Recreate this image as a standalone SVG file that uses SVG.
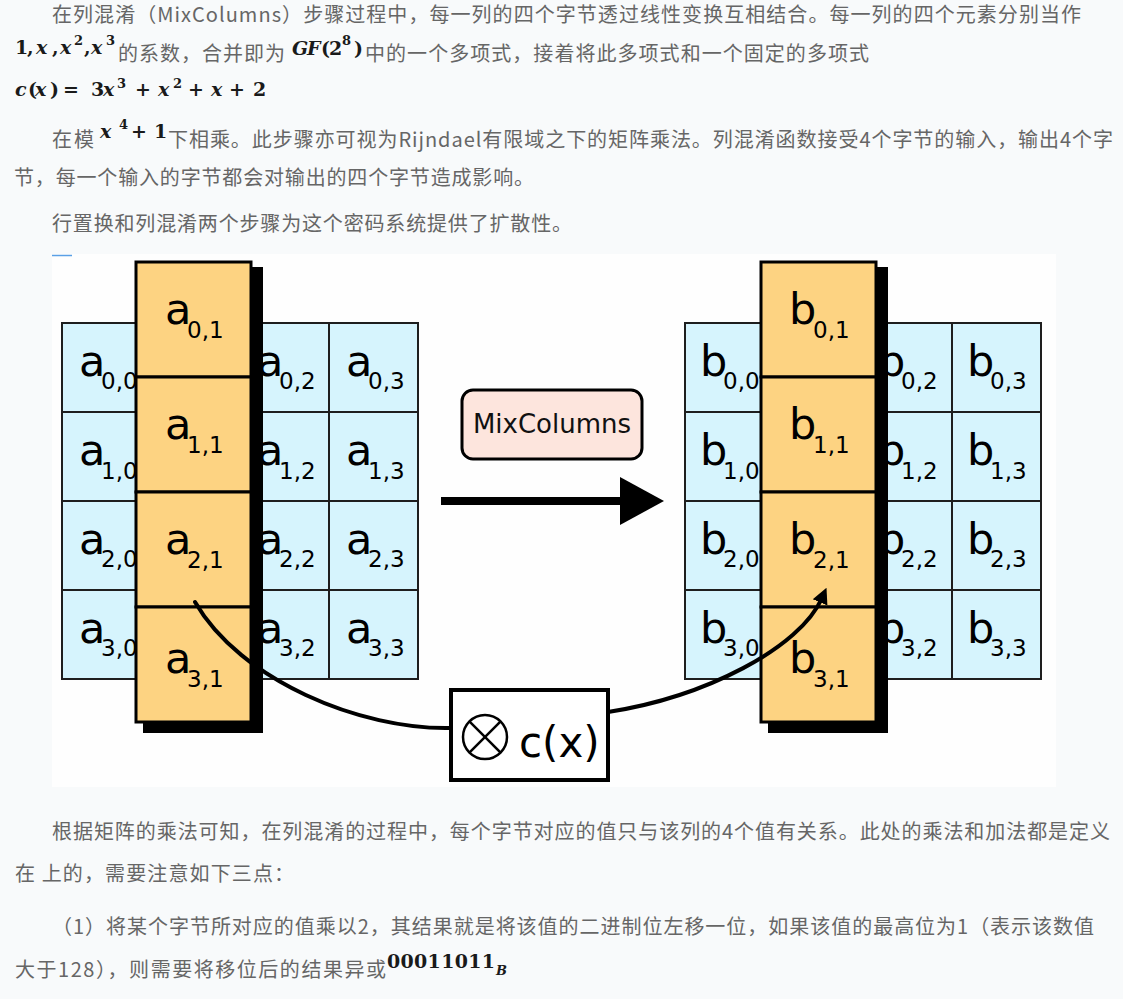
<svg xmlns="http://www.w3.org/2000/svg" width="1123" height="999" viewBox="0 0 1123 999">
<style>
.t{font-family:"Noto Sans CJK SC","Noto Sans",sans-serif;font-size:20px;fill:#666}
.m{font-family:"DejaVu Serif",serif;font-size:19px;font-weight:bold;fill:#1a1a1a}
.i{font-style:italic}
.sp{font-size:13px}
.blue{fill:#d6f4fd;stroke:#1e1e1e;stroke-width:2}
.or{fill:#fdd382;stroke:#000;stroke-width:3}
.sh{fill:#000}
.L{font-family:"DejaVu Sans",sans-serif;font-size:43px;fill:#000}
.S{font-size:23px}
.con{fill:none;stroke:#000;stroke-width:4}
</style>
<defs>
<marker id="ah" viewBox="0 0 10 10" refX="3" refY="5" markerWidth="16" markerHeight="17" markerUnits="userSpaceOnUse" orient="auto">
<path d="M0,0 L10,5 L0,10 z" fill="#000"/>
</marker>
</defs>
<rect x="0" y="0" width="1123" height="999" fill="#f8fafb"/>

<g id="text-body">
<text class="t" x="52" y="22" textLength="1029" lengthAdjust="spacing">在列混淆（MixColumns）步骤过程中，每一列的四个字节透过线性变换互相结合。每一列的四个元素分别当作</text>
<text class="m" y="54"><tspan x="15">1</tspan><tspan x="27">,</tspan><tspan x="36" class="i">x</tspan><tspan x="52">,</tspan><tspan x="60" class="i">x</tspan><tspan x="74" y="45" class="sp">2</tspan><tspan x="84" y="54">,</tspan><tspan x="91" class="i">x</tspan><tspan x="106" y="45" class="sp">3</tspan></text>
<text class="t" x="118" y="61" textLength="167" lengthAdjust="spacing">的系数，合并即为</text>
<text class="m" y="55"><tspan x="292" class="i">G</tspan><tspan x="307" class="i">F</tspan><tspan x="321">(</tspan><tspan x="329">2</tspan><tspan x="342" y="45" class="sp">8</tspan><tspan x="354" y="55">)</tspan></text>
<text class="t" x="365" y="61" textLength="504" lengthAdjust="spacing">中的一个多项式，接着将此多项式和一个固定的多项式</text>
<text class="m" y="96"><tspan x="15" class="i">c</tspan><tspan x="28">(</tspan><tspan x="35" class="i">x</tspan><tspan x="50">)</tspan><tspan x="63">=</tspan><tspan x="91">3</tspan><tspan x="103" class="i">x</tspan><tspan x="117" y="88" class="sp">3</tspan><tspan x="135" y="96">+</tspan><tspan x="158" class="i">x</tspan><tspan x="173" y="88" class="sp">2</tspan><tspan x="188" y="96">+</tspan><tspan x="211" class="i">x</tspan><tspan x="229">+</tspan><tspan x="253">2</tspan></text>
<text class="t" x="52" y="147" textLength="42" lengthAdjust="spacing">在模</text>
<text class="m" y="138"><tspan x="100" class="i">x</tspan><tspan x="119" y="129" class="sp">4</tspan><tspan x="131" y="138">+</tspan><tspan x="154">1</tspan></text>
<text class="t" x="168" y="147" textLength="945" lengthAdjust="spacing">下相乘。此步骤亦可视为Rijndael有限域之下的矩阵乘法。列混淆函数接受4个字节的输入，输出4个字</text>
<text class="t" x="14" y="185" textLength="520" lengthAdjust="spacing">节，每一个输入的字节都会对输出的四个字节造成影响。</text>
<text class="t" x="52" y="231" textLength="520" lengthAdjust="spacing">行置换和列混淆两个步骤为这个密码系统提供了扩散性。</text>
<text class="t" x="52" y="839" textLength="1058" lengthAdjust="spacing">根据矩阵的乘法可知，在列混淆的过程中，每个字节对应的值只与该列的4个值有关系。此处的乘法和加法都是定义</text>
<text class="t" x="15" y="881" textLength="279" lengthAdjust="spacing">在 上的，需要注意如下三点：</text>
<text class="t" x="52" y="934" textLength="1042" lengthAdjust="spacing">（1）将某个字节所对应的值乘以2，其结果就是将该值的二进制位左移一位，如果该值的最高位为1（表示该数值</text>
<text class="t" x="15" y="977" textLength="371" lengthAdjust="spacing">大于128），则需要将移位后的结果异或</text>
<text class="m" y="968"><tspan x="387" textLength="108" lengthAdjust="spacing">00011011</tspan><tspan x="496" y="975" class="i sp">B</tspan></text>
</g>

<rect x="52" y="254" width="1004" height="533" fill="#fefefe"/>
<line x1="52" y1="255.5" x2="72" y2="255.5" stroke="#5aa0e6" stroke-width="1.5"/>

<g id="grid-a">
<rect class="blue" x="62" y="323" width="89" height="89"/><rect class="blue" x="151" y="323" width="89" height="89"/><rect class="blue" x="240" y="323" width="89" height="89"/><rect class="blue" x="329" y="323" width="89" height="89"/>
<rect class="blue" x="62" y="412" width="89" height="89"/><rect class="blue" x="151" y="412" width="89" height="89"/><rect class="blue" x="240" y="412" width="89" height="89"/><rect class="blue" x="329" y="412" width="89" height="89"/>
<rect class="blue" x="62" y="501" width="89" height="89"/><rect class="blue" x="151" y="501" width="89" height="89"/><rect class="blue" x="240" y="501" width="89" height="89"/><rect class="blue" x="329" y="501" width="89" height="89"/>
<rect class="blue" x="62" y="590" width="89" height="89"/><rect class="blue" x="151" y="590" width="89" height="89"/><rect class="blue" x="240" y="590" width="89" height="89"/><rect class="blue" x="329" y="590" width="89" height="89"/>
<text class="L" y="376"><tspan x="79">a</tspan><tspan x="101" y="389" class="S">0,0</tspan></text>
<text class="L" y="376"><tspan x="257">a</tspan><tspan x="279" y="389" class="S">0,2</tspan></text>
<text class="L" y="376"><tspan x="346">a</tspan><tspan x="368" y="389" class="S">0,3</tspan></text>
<text class="L" y="465"><tspan x="79">a</tspan><tspan x="101" y="479" class="S">1,0</tspan></text>
<text class="L" y="465"><tspan x="257">a</tspan><tspan x="279" y="479" class="S">1,2</tspan></text>
<text class="L" y="465"><tspan x="346">a</tspan><tspan x="368" y="479" class="S">1,3</tspan></text>
<text class="L" y="554"><tspan x="79">a</tspan><tspan x="101" y="567" class="S">2,0</tspan></text>
<text class="L" y="554"><tspan x="257">a</tspan><tspan x="279" y="567" class="S">2,2</tspan></text>
<text class="L" y="554"><tspan x="346">a</tspan><tspan x="368" y="567" class="S">2,3</tspan></text>
<text class="L" y="643"><tspan x="79">a</tspan><tspan x="101" y="656" class="S">3,0</tspan></text>
<text class="L" y="643"><tspan x="257">a</tspan><tspan x="279" y="656" class="S">3,2</tspan></text>
<text class="L" y="643"><tspan x="346">a</tspan><tspan x="368" y="656" class="S">3,3</tspan></text>
</g>

<g id="col-a">
<rect class="sh" x="143" y="267" width="120" height="466"/>
<rect class="or" x="136" y="262" width="115" height="115"/>
<rect class="or" x="136" y="377" width="115" height="115"/>
<rect class="or" x="136" y="492" width="115" height="115"/>
<rect class="or" x="136" y="607" width="115" height="115"/>
<text class="L" y="324"><tspan x="165">a</tspan><tspan x="187" y="338" class="S">0,1</tspan></text>
<text class="L" y="439"><tspan x="165">a</tspan><tspan x="187" y="453" class="S">1,1</tspan></text>
<text class="L" y="554"><tspan x="165">a</tspan><tspan x="187" y="568" class="S">2,1</tspan></text>
<text class="L" y="673"><tspan x="165">a</tspan><tspan x="187" y="687" class="S">3,1</tspan></text>
</g>

<g id="grid-b">
<rect class="blue" x="685" y="323" width="89" height="89"/><rect class="blue" x="774" y="323" width="89" height="89"/><rect class="blue" x="863" y="323" width="89" height="89"/><rect class="blue" x="952" y="323" width="89" height="89"/>
<rect class="blue" x="685" y="412" width="89" height="89"/><rect class="blue" x="774" y="412" width="89" height="89"/><rect class="blue" x="863" y="412" width="89" height="89"/><rect class="blue" x="952" y="412" width="89" height="89"/>
<rect class="blue" x="685" y="501" width="89" height="89"/><rect class="blue" x="774" y="501" width="89" height="89"/><rect class="blue" x="863" y="501" width="89" height="89"/><rect class="blue" x="952" y="501" width="89" height="89"/>
<rect class="blue" x="685" y="590" width="89" height="89"/><rect class="blue" x="774" y="590" width="89" height="89"/><rect class="blue" x="863" y="590" width="89" height="89"/><rect class="blue" x="952" y="590" width="89" height="89"/>
<text class="L" y="376"><tspan x="700">b</tspan><tspan x="723" y="389" class="S">0,0</tspan></text>
<text class="L" y="376"><tspan x="878">b</tspan><tspan x="901" y="389" class="S">0,2</tspan></text>
<text class="L" y="376"><tspan x="967">b</tspan><tspan x="990" y="389" class="S">0,3</tspan></text>
<text class="L" y="465"><tspan x="700">b</tspan><tspan x="723" y="479" class="S">1,0</tspan></text>
<text class="L" y="465"><tspan x="878">b</tspan><tspan x="901" y="479" class="S">1,2</tspan></text>
<text class="L" y="465"><tspan x="967">b</tspan><tspan x="990" y="479" class="S">1,3</tspan></text>
<text class="L" y="554"><tspan x="700">b</tspan><tspan x="723" y="567" class="S">2,0</tspan></text>
<text class="L" y="554"><tspan x="878">b</tspan><tspan x="901" y="567" class="S">2,2</tspan></text>
<text class="L" y="554"><tspan x="967">b</tspan><tspan x="990" y="567" class="S">2,3</tspan></text>
<text class="L" y="643"><tspan x="700">b</tspan><tspan x="723" y="656" class="S">3,0</tspan></text>
<text class="L" y="643"><tspan x="878">b</tspan><tspan x="901" y="656" class="S">3,2</tspan></text>
<text class="L" y="643"><tspan x="967">b</tspan><tspan x="990" y="656" class="S">3,3</tspan></text>
</g>

<g id="col-b">
<rect class="sh" x="768" y="267" width="120" height="466"/>
<rect class="or" x="761" y="262" width="115" height="115"/>
<rect class="or" x="761" y="377" width="115" height="115"/>
<rect class="or" x="761" y="492" width="115" height="115"/>
<rect class="or" x="761" y="607" width="115" height="115"/>
<text class="L" y="324"><tspan x="789">b</tspan><tspan x="813" y="338" class="S">0,1</tspan></text>
<text class="L" y="439"><tspan x="789">b</tspan><tspan x="813" y="453" class="S">1,1</tspan></text>
<text class="L" y="554"><tspan x="789">b</tspan><tspan x="813" y="568" class="S">2,1</tspan></text>
<text class="L" y="673"><tspan x="789">b</tspan><tspan x="813" y="687" class="S">3,1</tspan></text>
</g>

<g id="mixcolumns">
<rect x="462" y="390" width="180" height="69" rx="11" fill="#fde5dd" stroke="#000" stroke-width="3"/>
<text x="552" y="433" text-anchor="middle" font-family="DejaVu Sans, sans-serif" font-size="26" fill="#111">MixColumns</text>
</g>

<g id="connectors">
<line x1="441" y1="501" x2="622" y2="501" stroke="#000" stroke-width="8"/>
<polygon points="620,477 664,501 620,525" fill="#000"/>
<path class="con" d="M195,602 C240,680 360,730 451,728" stroke-linecap="round"/>
<path class="con" d="M608,712 C705,697 800,648 822,598" marker-end="url(#ah)"/>
</g>

<g id="cx-box">
<rect x="451" y="690" width="157" height="90" fill="#fff" stroke="#000" stroke-width="4"/>
<circle cx="485" cy="737" r="22" fill="none" stroke="#000" stroke-width="2.5"/>
<line x1="469.4" y1="721.4" x2="500.6" y2="752.6" stroke="#000" stroke-width="2.5"/>
<line x1="500.6" y1="721.4" x2="469.4" y2="752.6" stroke="#000" stroke-width="2.5"/>
<text x="519" y="757" font-family="DejaVu Sans, sans-serif" font-size="42" fill="#000">c(x)</text>
</g>
</svg>
